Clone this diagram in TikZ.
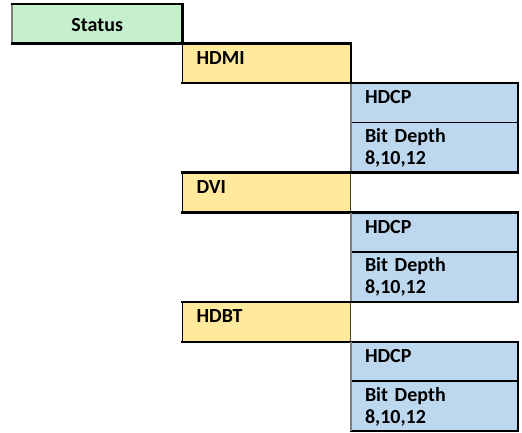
\documentclass[tikz,border=0pt]{standalone}
\usepackage{fontspec}
\setmainfont{Carlito}
\usetikzlibrary{positioning}
\definecolor{statusgreen}{RGB}{198,239,206}
\definecolor{portyellow}{RGB}{255,233,156}
\definecolor{propblue}{RGB}{189,215,238}
\begin{document}
\begin{tikzpicture}[x=1pt,y=-1pt,
   every node/.style={anchor=north west, inner xsep=14pt, inner ysep=0pt,
     align=left, text width=139pt, text height=16pt, text depth=14pt,
     font=\fontsize{20}{22}\selectfont\bfseries},
   status/.style={fill=statusgreen, text width=142pt, align=center,
     minimum height=39pt, text depth=1pt},
   port/.style={fill=portyellow, text width=140pt, minimum height=39.5pt},
   prop/.style={fill=propblue, minimum height=39pt},
   depth/.style={fill=propblue, minimum height=49.5pt, text depth=26pt},
   heavy/.style={line width=2.4pt, line cap=rect},
   light/.style={line width=1.3pt},
   greyline/.style={line width=1.6pt, gray}]
\useasboundingbox (0,0) rectangle (522,433);

\node[status] (status) at (12,4) {Status};
\node[port] (hdmi) at (status.south east) {HDMI};
\node[prop] (hdcp1) at (hdmi.south east) {HDCP};
\node[depth] (bd1) at (hdcp1.south west) {Bit Depth\\8,10,12};
\node[port] (dvi) at (bd1.south -| hdmi.west) {DVI};
\node[prop] (hdcp2) at (dvi.south east) {HDCP};
\node[depth] (bd2) at (hdcp2.south west) {Bit Depth\\8,10,12};
\node[port] (hdbt) at (bd2.south -| hdmi.west) {HDBT};
\node[prop] (hdcp3) at (hdbt.south east) {HDCP};
\node[depth] (bd3) at (hdcp3.south west) {Bit Depth\\8,10,12};

% borders
\draw[greyline] (status.north west) -- (status.south west);
\draw[heavy] (status.north west) -- (status.north east) -- (status.south east);
\draw[heavy] (status.south west) -- (hdmi.north west);
\foreach \p/\n in {hdmi/1, dvi/2, hdbt/3} {
  \draw[light] (\p.north west) -- (\p.south west);
  \draw[light, darkgray] (\p.north east) -- (\p.south east);
  \draw[heavy] (\p.north west) -- (\p.north east);
  \draw[heavy] (\p.south west) -- (hdcp\n.north east) -- (bd\n.south east) -- (bd\n.south west);
  \draw[light] (hdcp\n.south west) -- (hdcp\n.south east);
  \draw[greyline] (hdcp\n.north west) -- (bd\n.south west);
}
\draw[heavy] (hdmi.north east) -- (hdmi.south east);
\end{tikzpicture}
\end{document}
